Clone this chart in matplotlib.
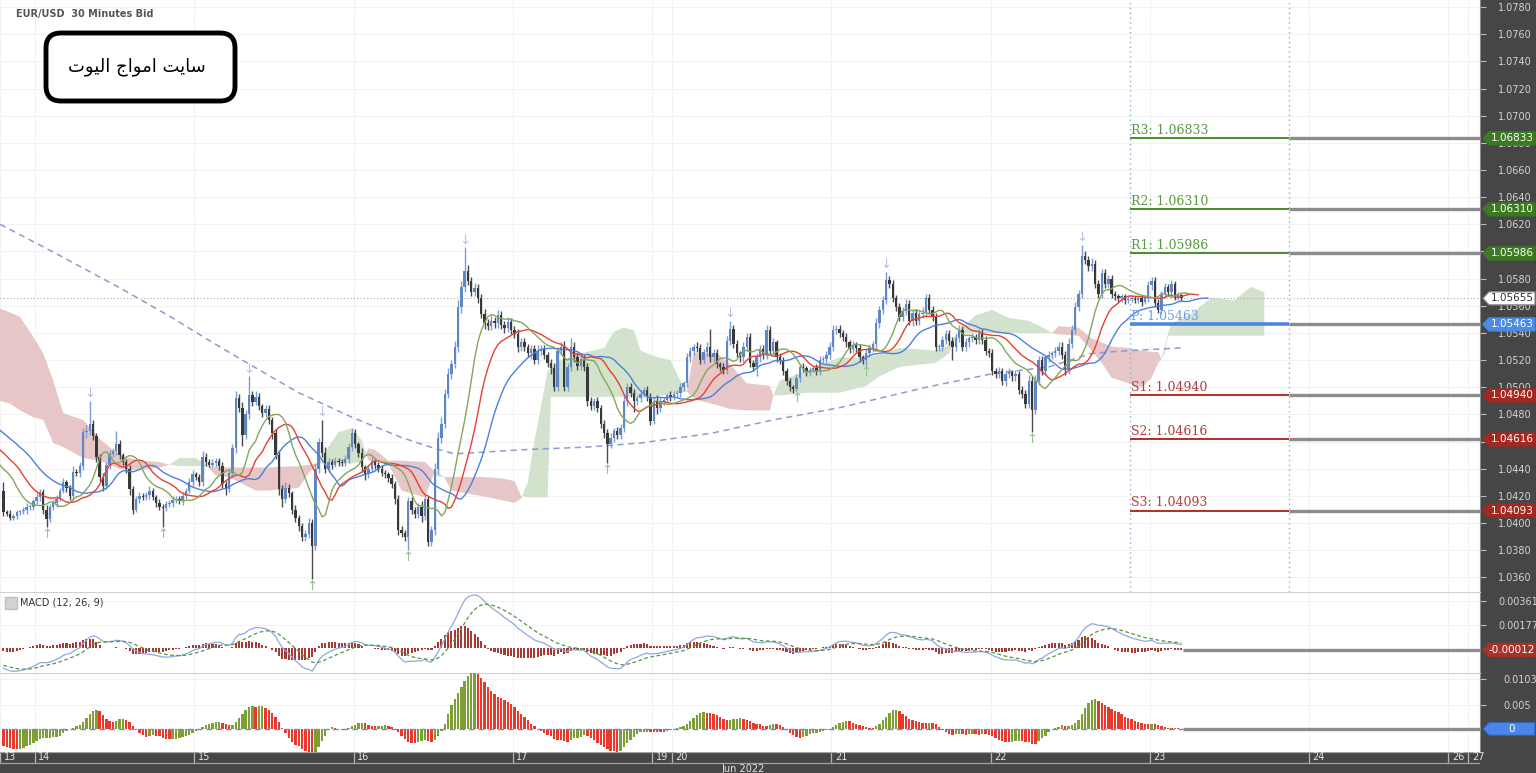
import numpy as np
import pandas as pd
import matplotlib
matplotlib.use("Agg")
import matplotlib.pyplot as plt
import matplotlib.transforms as mtransforms
from matplotlib.patches import Polygon, FancyBboxPatch

# EUR/USD 30 minute bars, prices given in pips above 1.0000
# a few bars before the visible window, only used to warm up the indicators
pre_close = [498, 495, 497, 492, 488, 490, 485, 482, 484, 480, 476, 478, 474, 470, 472, 468, 465, 467, 462, 458,
             460, 455, 452, 450, 446, 448, 443, 440, 436, 438, 432, 428, 430, 424]

close_pips = [
    408, 407, 404, 405, 408, 409, 410, 412, 412, 416, 419, 423, 410, 403, 412, 415, 418, 424, 430, 426,
    420, 438, 437, 442, 467, 468, 473, 464, 449, 434, 427, 443, 451, 453, 458, 450, 445, 440, 425, 410,
    418, 420, 419, 421, 424, 419, 415, 412, 411, 414, 415, 417, 418, 416, 420, 424, 430, 436, 434, 430,
    449, 445, 443, 444, 446, 442, 429, 425, 437, 455, 492, 485, 465, 480, 494, 489, 493, 486, 481, 484,
    476, 466, 450, 425, 418, 426, 422, 410, 404, 398, 390, 392, 400, 383, 440, 460, 452, 440, 445, 443,
    446, 445, 444, 447, 456, 466, 458, 452, 441, 436, 440, 446, 443, 440, 437, 436, 433, 429, 418, 395,
    393, 390, 416, 410, 407, 412, 405, 418, 386, 395, 440, 463, 473, 495, 510, 517, 530, 559, 574, 586,
    578, 570, 573, 566, 554, 547, 545, 549, 547, 553, 546, 544, 548, 542, 539, 530, 533, 530, 525, 528,
    520, 527, 528, 524, 518, 514, 500, 527, 530, 500, 515, 530, 522, 516, 521, 515, 490, 486, 490, 485,
    473, 466, 458, 463, 468, 465, 470, 490, 500, 496, 490, 492, 495, 498, 493, 475, 490, 485, 490, 491,
    494, 493, 495, 496, 500, 503, 522, 527, 530, 529, 520, 526, 530, 522, 525, 517, 515, 513, 534, 543,
    532, 525, 522, 530, 537, 518, 515, 522, 528, 524, 542, 527, 533, 522, 520, 512, 505, 500, 499, 507,
    515, 514, 511, 513, 514, 512, 520, 521, 524, 530, 542, 543, 540, 537, 533, 528, 531, 529, 522, 520,
    525, 529, 532, 547, 557, 564, 579, 576, 566, 559, 552, 556, 561, 549, 555, 549, 554, 555, 566, 557,
    552, 530, 530, 535, 539, 534, 530, 536, 542, 530, 533, 536, 537, 535, 540, 535, 527, 525, 512, 510,
    512, 505, 510, 511, 508, 510, 498, 495, 488, 505, 483, 505, 520, 512, 522, 524, 525, 527, 530, 524,
    513, 532, 542, 559, 569, 597, 594, 589, 591, 576, 569, 584, 576, 580, 569, 567, 566, 567, 564, 565,
    565, 564, 566, 563, 566, 575, 578, 562, 557, 569, 574, 570, 576, 566, 568, 565.5]

# wick length above / below the body, pips
wick_up = [
    6, 2, 3, 2, 2, 1, 2, 3, 2, 2, 3, 2, 2, 3, 2, 2, 3, 2, 3, 2,
    2, 4, 2, 3, 3, 4, 17, 3, 2, 2, 3, 2, 3, 2, 10, 3, 2, 2, 3, 2,
    2, 3, 2, 2, 3, 2, 2, 3, 2, 2, 2, 3, 2, 2, 3, 2, 3, 3, 2, 2,
    4, 3, 2, 3, 2, 2, 3, 2, 2, 3, 5, 3, 4, 3, 14, 3, 4, 3, 2, 3,
    3, 2, 3, 4, 3, 4, 3, 2, 3, 2, 2, 3, 4, 3, 4, 3, 16, 4, 3, 2,
    3, 2, 2, 3, 3, 4, 3, 2, 3, 2, 3, 3, 2, 2, 3, 2, 2, 3, 2, 3,
    3, 2, 3, 3, 2, 3, 4, 3, 2, 3, 4, 4, 5, 4, 4, 3, 4, 5, 4, 17,
    4, 3, 4, 3, 3, 4, 3, 4, 3, 4, 3, 3, 4, 3, 3, 4, 3, 3, 2, 3,
    3, 4, 3, 3, 2, 3, 4, 3, 3, 4, 3, 6, 3, 3, 4, 3, 3, 3, 2, 3,
    2, 3, 3, 3, 2, 3, 3, 4, 3, 3, 3, 2, 3, 2, 3, 3, 3, 4, 3, 2,
    2, 3, 2, 2, 3, 2, 3, 3, 2, 3, 3, 2, 3, 13, 3, 3, 2, 3, 4, 6,
    3, 3, 2, 3, 3, 3, 2, 3, 3, 3, 4, 3, 3, 2, 3, 2, 2, 2, 2, 3,
    2, 3, 2, 2, 2, 3, 3, 2, 3, 3, 4, 3, 3, 2, 3, 2, 3, 2, 3, 2,
    3, 3, 2, 4, 3, 3, 6, 3, 3, 2, 3, 3, 4, 3, 3, 3, 3, 4, 3, 3,
    3, 3, 2, 3, 3, 3, 3, 3, 4, 3, 3, 2, 3, 2, 3, 3, 3, 2, 3, 2,
    3, 2, 3, 3, 2, 3, 2, 3, 3, 4, 3, 4, 3, 3, 2, 3, 2, 3, 3, 3,
    3, 4, 4, 4, 3, 8, 3, 3, 4, 3, 3, 3, 3, 3, 3, 2, 2, 2, 2, 2,
    2, 2, 2, 2, 2, 3, 3, 3, 3, 2, 3, 2, 3, 2, 2, 1]
wick_dn = [
    3, 2, 2, 2, 2, 2, 2, 3, 2, 2, 2, 3, 3, 6, 2, 2, 3, 2, 2, 3,
    3, 3, 2, 3, 3, 4, 3, 3, 4, 3, 3, 2, 3, 2, 3, 3, 2, 3, 4, 3,
    2, 3, 2, 2, 3, 2, 3, 2, 14, 2, 2, 3, 2, 2, 3, 2, 2, 3, 2, 3,
    3, 3, 2, 2, 3, 3, 3, 4, 2, 3, 3, 3, 8, 3, 3, 3, 2, 3, 3, 3,
    3, 4, 3, 4, 6, 3, 3, 3, 3, 4, 3, 3, 3, 24, 3, 3, 3, 3, 2, 3,
    2, 3, 2, 2, 3, 3, 3, 3, 3, 4, 3, 2, 3, 2, 2, 3, 3, 3, 4, 4,
    3, 3, 10, 3, 3, 3, 4, 3, 3, 3, 4, 4, 4, 3, 3, 4, 3, 4, 4, 4,
    3, 3, 3, 4, 3, 4, 3, 3, 3, 3, 3, 4, 3, 3, 3, 4, 3, 3, 3, 4,
    3, 3, 3, 3, 3, 4, 3, 3, 3, 3, 3, 3, 3, 3, 3, 3, 4, 3, 3, 3,
    3, 3, 14, 3, 3, 3, 3, 3, 4, 3, 8, 3, 3, 2, 3, 3, 2, 5, 3, 3,
    2, 3, 2, 2, 3, 3, 3, 3, 3, 3, 3, 3, 3, 3, 3, 3, 3, 3, 3, 3,
    3, 3, 3, 3, 3, 3, 3, 7, 3, 3, 3, 3, 3, 3, 3, 3, 3, 3, 3, 2,
    3, 3, 3, 3, 2, 3, 3, 2, 3, 3, 3, 3, 3, 3, 3, 3, 3, 3, 3, 3,
    4, 3, 3, 3, 3, 3, 3, 3, 3, 3, 3, 3, 3, 3, 4, 3, 3, 3, 3, 3,
    3, 3, 3, 3, 3, 3, 10, 3, 3, 3, 3, 3, 3, 3, 3, 3, 3, 3, 3, 3,
    3, 3, 4, 3, 3, 3, 3, 3, 3, 3, 16, 3, 3, 3, 3, 3, 3, 3, 3, 3,
    4, 3, 3, 3, 3, 3, 3, 3, 3, 3, 3, 3, 3, 3, 3, 3, 3, 3, 3, 2,
    2, 2, 2, 3, 2, 3, 3, 3, 2, 3, 3, 2, 3, 2, 2, 2]

# Ichimoku cloud edges (bar index, span A, span B in pips)
cloud_bar = [-1, 2, 5, 9, 12, 15, 18, 24, 29, 35,
             41, 47, 50, 53, 58, 61, 64, 68, 76, 80,
             89, 92, 95, 97, 101, 105, 108, 110, 112, 116,
             120, 127, 130, 131, 133, 135, 144, 150, 154, 156,
             158, 160, 164, 165, 168, 174, 181, 184, 187, 190,
             192, 196, 201, 204, 206, 208, 210, 215, 219, 224,
             231, 232, 234, 242, 252, 260, 264, 270, 281, 285,
             286, 288, 293, 298, 303, 309, 314, 316, 318, 324,
             328, 331, 334, 339, 343, 346, 348, 349, 350, 351,
             352, 358, 364, 371, 376, 380]
span_a = [490, 488, 483, 478, 476, 459, 456, 448, 446, 440,
          439, 441, 443, 448, 448, 443, 435, 434, 424, 424,
          426, 437, 444, 453, 467, 470, 461, 446, 446, 444,
          424, 419, 438, 438, 433, 424, 420, 417, 415, 418,
          430, 460, 512, 514, 520, 525, 529, 541, 544, 542,
          527, 523, 520, 505, 497, 492, 490, 487, 484, 483,
          483, 494, 505, 512, 522, 522, 524, 529, 527, 531,
          535, 542, 553, 557, 551, 549, 543, 540, 539, 538,
          527, 518, 507, 503, 500, 507, 518, 521, 530, 540,
          547, 554, 566, 564, 574, 570]
span_b = [558, 555, 552, 537, 525, 505, 481, 476, 462, 450,
          446, 445, 443, 442, 442, 442, 441, 441, 441, 441,
          442, 443, 444, 444, 444, 444, 445, 455, 454, 446,
          446, 445, 438, 434, 434, 434, 434, 433, 431, 420,
          419, 419, 419, 493, 493, 493, 493, 493, 493, 493,
          493, 493, 495, 496, 497, 525, 525, 525, 517, 503,
          501, 494, 494, 496, 496, 501, 508, 515, 518, 525,
          532, 540, 540, 540, 540, 540, 540, 540, 545, 544,
          536, 533, 530, 529, 527, 526, 526, 521, 525, 538,
          538, 538, 538, 538, 538, 538]

# long dashed moving average
dash_bar = [-1, 17, 36, 51, 63, 72, 89, 105, 120, 130, 136, 156, 176, 192, 213, 232, 252, 266, 278, 298, 315, 328, 339, 355]
dash_val = [620, 597, 572, 551, 533, 520, 496, 478, 463, 455, 451, 454, 456, 459, 466, 476, 485, 493, 500, 510, 515, 525, 527, 529]

# fractal bars
frac_high_bars = [26, 74, 96, 139, 219, 266, 325]
frac_low_bars = [13, 48, 93, 122, 182, 239, 260, 310]

pivot_names = ["R3", "R2", "R1", "P", "S1", "S2", "S3"]
pivot_values = [1.06833, 1.06310, 1.05986, 1.05463, 1.04940, 1.04616, 1.04093]
pivot_start, pivot_end = 340, 388
last_price = 1.05655
macd_last = -0.00012
ao_last = 0.0

# 1.0600 and 1.0460 sit fully under the R1 / S2 tags, so they show no label
price_ticks = [1.0360 + 0.002 * k for k in range(22)]
hidden_price_labels = ["1.0600", "1.0460"]
macd_ticks = [0.00177, 0.00361]
ao_ticks = [0.005, 0.0103]

day_ticks = [-0.5, 10, 58, 106, 154, 196, 202, 250, 298, 346, 394, 436, 442]
day_labels = ["13", "14", "15", "16", "17", "19", "20", "21", "22", "23", "24", "26", "27"]

# ---------------------------------------------------------------
W, H = 1536, 773
DARK = "#464646"
fig = plt.figure(figsize=(W / 100, H / 100), dpi=100, facecolor=DARK)


def px_axes(x0, y0, x1, y1):
    return fig.add_axes([x0 / W, 1 - y1 / H, (x1 - x0) / W, (y1 - y0) / H])


ax = px_axes(0, 0, 1480, 591.5)
ax_m = px_axes(0, 591.5, 1480, 672.5)
ax_a = px_axes(0, 672.5, 1480, 752)
ax_x = px_axes(0, 752, 1480, 773)

XLIM = (-0.54, 445.5)
for a in (ax, ax_m, ax_a, ax_x):
    a.set_xlim(XLIM)
    for s in a.spines.values():
        s.set_visible(False)

ax.set_ylim(1.034967, 1.078516)
ax_m.set_ylim(-0.001832, 0.004301)
ax_a.set_ylim(-0.004792, 0.011667)


def price(p):
    return 1 + np.asarray(p, dtype=float) / 1e4


n = len(close_pips)
c = np.array(close_pips, dtype=float)
o = np.r_[pre_close[-1], c[:-1]]
hi = np.maximum(o, c) + np.array(wick_up)
lo = np.minimum(o, c) - np.array(wick_dn)
xs = np.arange(n) + 0.5

# grid
for a in (ax, ax_m, ax_a):
    a.set_facecolor("white")
    a.set_xticks(day_ticks)
    a.tick_params(axis="x", length=0, labelbottom=False)
    a.grid(True, color="#f2f2f2", lw=0.8, zorder=0)
    a.set_axisbelow(True)
    a.yaxis.tick_right()
    a.tick_params(axis="y", length=4, color="#bdbdbd", labelcolor="#d4d4d4",
                  labelsize=7, pad=9)

ax.set_yticks(price_ticks)
ax.set_yticklabels(["" if "%.4f" % v in hidden_price_labels else "%.4f" % v for v in price_ticks])
ax_m.set_yticks(macd_ticks)
ax_m.set_yticklabels(["%.5f" % v for v in macd_ticks])
ax_a.set_yticks(ao_ticks)
ax_a.set_yticklabels(["0.005", "0.0103"])
ax_a.tick_params(axis="y", pad=13)

# ichimoku cloud
cx = np.array(cloud_bar) + 0.5
sa = price(span_a)
sb = price(span_b)
ax.fill_between(cx, sa, sb, where=sa >= sb, interpolate=True, color="#d2e2cc", lw=0, zorder=1)
ax.fill_between(cx, sa, sb, where=sa <= sb, interpolate=True, color="#e6c6c6", lw=0, zorder=1)

# dashed long average
ax.plot(np.array(dash_bar) + 0.5, price(dash_val), color="#8c9ccf", lw=1.1, ls=(0, (4, 3)), zorder=2)

# candles
up = c >= o
ax.vlines(xs[up], price(lo[up]), price(hi[up]), color="#7f9dd2", lw=1.0, zorder=3)
ax.vlines(xs[~up], price(lo[~up]), price(hi[~up]), color="#4a4a4a", lw=1.0, zorder=3)
body = np.maximum(np.abs(c - o), 0.5) / 1e4
ax.bar(xs, body, bottom=price(np.minimum(o, c)), width=0.72,
       color=np.where(up, "#5f87c4", "#383838"), lw=0, zorder=4)

# alligator on median price
med_all = np.r_[pre_close, (hi + lo) / 2]
idx_all = np.arange(-len(pre_close), n) + 0.5


def smma(vals, period):
    out = np.empty(len(vals))
    out[0] = vals[0]
    for i in range(1, len(vals)):
        out[i] = (out[i - 1] * (period - 1) + vals[i]) / period
    return out


ax.plot(idx_all + 8, price(smma(med_all, 13)), color="#4d7fe0", lw=1.0, zorder=5)
ax.plot(idx_all + 5, price(smma(med_all, 8)), color="#e8402f", lw=1.0, zorder=5)
ax.plot(idx_all + 3, price(smma(med_all, 5)), color="#86a55c", lw=1.0, zorder=5)

# fractals
for b in frac_high_bars:
    ax.annotate("\u2193", (xs[b], price(hi[b])), xytext=(0, 0.5), textcoords="offset points",
                ha="center", va="bottom", fontsize=9.5, color="#b3c0e2", zorder=6)
for b in frac_low_bars:
    ax.annotate("\u2191", (xs[b], price(lo[b])), xytext=(0, -0.5), textcoords="offset points",
                ha="center", va="top", fontsize=9.5, color="#93c290", zorder=6)

# current price and pivot period
ax.axhline(last_price, color="#a8a8a8", lw=0.8, ls=(0, (1, 2)), zorder=2)
for xv in (pivot_start, pivot_end):
    ax.axvline(xv, color="#92abd8", lw=1.0, ls=(0, (1, 2.5)), zorder=2)

line_col = {"R": "#4b8a2c", "P": "#4a86e8", "S": "#b03028"}
text_col = {"R": "#5c9a42", "P": "#6d9eea", "S": "#b04040"}
tag_col = {"R": "#3c7a22", "P": "#4a8be6", "S": "#a4281f"}
for name, v in zip(pivot_names, pivot_values):
    k = name[0]
    ax.hlines(v, pivot_end, XLIM[1], color="#8c8c8c", lw=2.4, zorder=6)
    ax.hlines(v, pivot_start, pivot_end, color=line_col[k], lw=2.6 if k == "P" else 1.4, zorder=6)
    ax.annotate("%s: %.5f" % (name, v), (pivot_start, v), xytext=(0.5, 1.2), textcoords="offset points",
                ha="left", va="bottom", fontsize=9, family="DejaVu Serif", color=text_col[k], zorder=7)


def tag(axis, value, text, fc, tc="white", ec=None):
    y0, y1 = axis.get_ylim()
    dy = (y1 - y0) / axis.bbox.height
    wpx = axis.bbox.width
    tr = mtransforms.blended_transform_factory(axis.transAxes, axis.transData)

    def fx(p):
        return 1 + p / wpx

    pts = [(fx(3), value), (fx(9), value + 6.5 * dy), (fx(55), value + 6.5 * dy),
           (fx(55), value - 6.5 * dy), (fx(9), value - 6.5 * dy)]
    axis.add_patch(Polygon(pts, closed=True, transform=tr, fc=fc, ec=ec or fc, lw=0.9,
                           clip_on=False, zorder=10))
    axis.text(fx(32), value, text, transform=tr, ha="center", va="center", fontsize=7.5,
              color=tc, clip_on=False, zorder=11)


for name, v in zip(pivot_names, pivot_values):
    tag(ax, v, "%.5f" % v, tag_col[name[0]])
tag(ax, last_price, "%.5f" % last_price, "white", tc="#333333", ec="#8a8a8a")

# MACD (12, 26, 9)
s_all = pd.Series(np.r_[pre_close, c])
macd = (s_all.ewm(span=12, adjust=False).mean() - s_all.ewm(span=26, adjust=False).mean()) / 1e4
signal = macd.ewm(span=9, adjust=False).mean()
hist = (macd - signal).values[-n:]
ax_m.bar(xs, hist, width=0.62, color="#a63a35", lw=0, zorder=3)
ax_m.plot(xs, macd.values[-n:], color="#8fa9dc", lw=0.9, zorder=4)
ax_m.plot(xs, signal.values[-n:], color="#55963c", lw=0.9, ls=(0, (3, 2)), zorder=4)
ax_m.hlines(macd_last, n, XLIM[1], color="#8c8c8c", lw=2.4, zorder=5)
tag(ax_m, macd_last, "%.5f" % macd_last, "#a83228")
ax_m.plot([11 / 1480], [1 - 11 / 81], marker="s", ms=9, color="#d2d2d2", mec="#c0c0c0",
          transform=ax_m.transAxes, clip_on=False, zorder=6)
ax_m.text(20 / 1480, 1 - 11 / 81, "MACD (12, 26, 9)", transform=ax_m.transAxes, fontsize=7,
          color="#333333", va="center", ha="left", zorder=6)

# awesome oscillator
med = pd.Series(med_all)
ao_all = ((med.rolling(5).mean() - med.rolling(34).mean()) / 1e4).values
ao = ao_all[-n:]
rising = np.diff(ao_all)[-n:] > 0
ax_a.bar(xs, ao, width=0.72, color=np.where(rising, "#7e9f36", "#e83a2c"), lw=0, zorder=3)
ax_a.hlines(0, 0, n, color="#6a8ad6", lw=1.0, ls=(0, (4, 3)), zorder=4)
ax_a.hlines(ao_last, n, XLIM[1], color="#8c8c8c", lw=2.4, zorder=5)
tag(ax_a, ao_last, "0", "#4a86e8", ec="#2c5fb8")

# panel borders
for a in (ax_m, ax_a):
    a.spines["top"].set_visible(True)
    a.spines["top"].set_color("#d0d0d0")
for a in (ax, ax_m, ax_a):
    a.spines["right"].set_visible(True)
    a.spines["right"].set_color("#8a8a8a")

# date band
ax_x.set_facecolor(DARK)
ax_x.set_ylim(0, 1)
ax_x.set_xticks([])
ax_x.set_yticks([])
ax_x.vlines(day_ticks, 0.5, 1, color="#b4b4b4", lw=0.9)
ax_x.axhline(0.47, color="#a0a0a0", lw=0.9)
ax_x.axhline(0.99, color="#a0a0a0", lw=0.9)
for t, lab in zip(day_ticks, day_labels):
    ax_x.annotate(lab, (t, 0.74), xytext=(2.5, 0), textcoords="offset points",
                  ha="left", va="center", fontsize=7, color="#e4e4e4")
ax_x.text(223.4, 0.2, "Jun 2022", ha="center", va="center", fontsize=7, color="#e4e4e4")

# title and logo box (pixel coordinates, origin top-left)
ptrans = mtransforms.Affine2D().scale(1.0 / W, -1.0 / H).translate(0, 1) + fig.transFigure
fig.text(16, 14, "EUR/USD  30 Minutes Bid", transform=ptrans, fontsize=7, fontweight="bold",
         color="#555555", va="center", ha="left")
fig.add_artist(FancyBboxPatch((46, 33), 189, 68, boxstyle="round,pad=0,rounding_size=15",
                              transform=ptrans, fc="white", ec="black", lw=3.5, zorder=20))
# "سايت امواج اليوت" written with joined letter forms in display order
fig.text(137, 67, "\ufe95\ufeee\ufef4\ufedf\ufe8d \ufe9d\ufe8d\ufeee\ufee3\ufe8d \ufe96\ufef3\ufe8e\ufeb3",
         transform=ptrans, fontsize=13, family=["DejaVu Sans"], color="black",
         ha="center", va="center", zorder=21)

fig.savefig("out.png", dpi=100, facecolor=DARK)
